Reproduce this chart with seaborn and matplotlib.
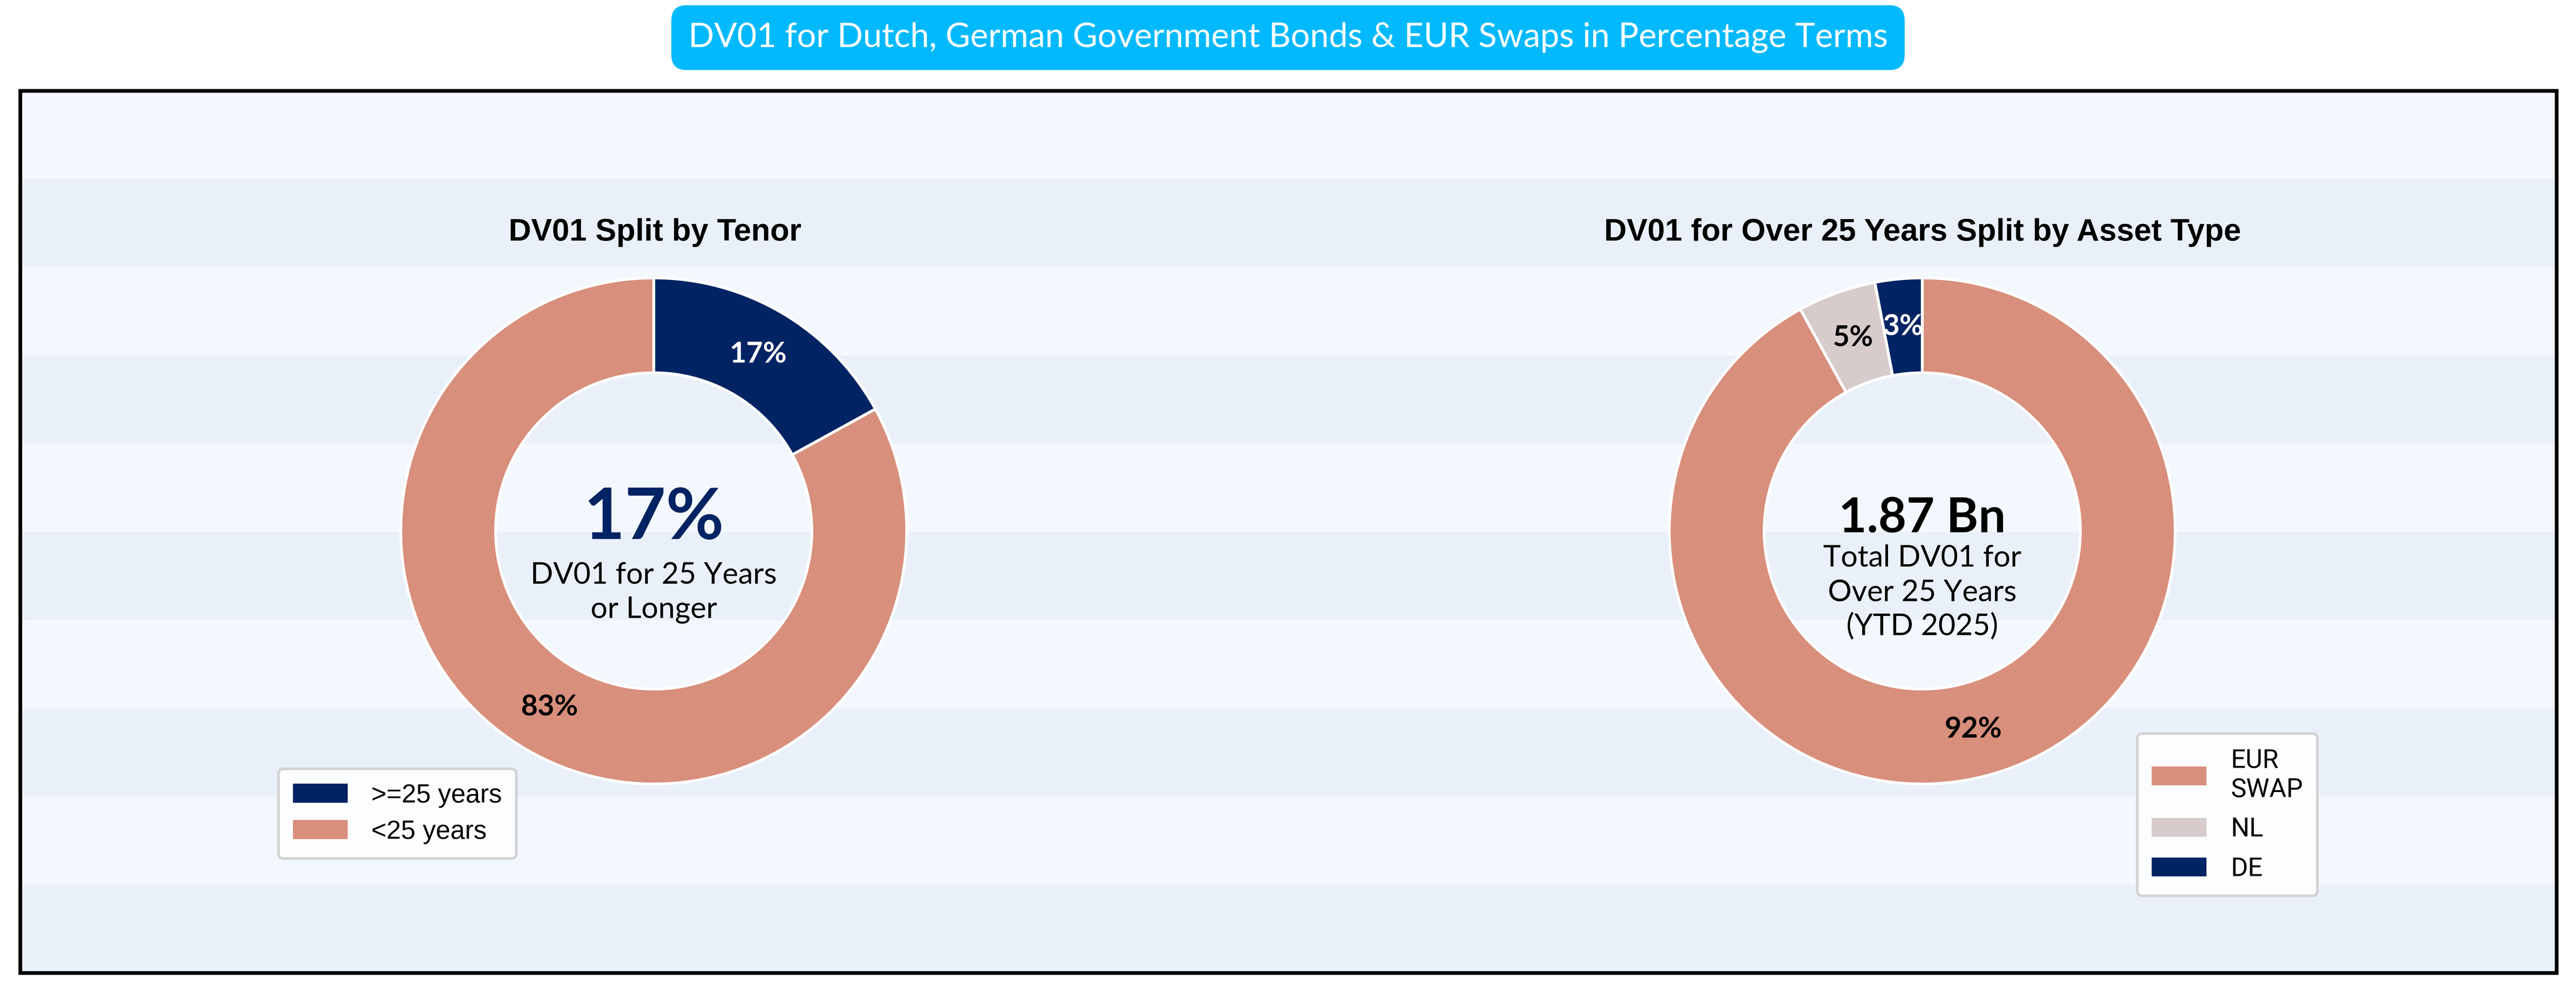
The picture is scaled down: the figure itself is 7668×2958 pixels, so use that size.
import matplotlib
matplotlib.use("Agg")
import matplotlib.pyplot as plt
import seaborn as sns
from matplotlib.patches import Patch

# data
tenor_labels = [">=25 years", "<25 years"]
tenor_share = [17, 83]
asset_labels = ["EUR\nSWAP", "NL", "DE"]
asset_share = [92, 5, 3]
total_dv01_bn = 1.87

NAVY = "#002463"
SALMON = "#D88F7C"
ROSE = "#D8CBCB"
tenor_colors = sns.color_palette([NAVY, SALMON])
asset_colors = sns.color_palette([SALMON, ROSE, NAVY])

sns.set_theme(style="white")
plt.rcParams["font.family"] = ["Lato", "DejaVu Sans"]
plt.rcParams["text.color"] = "black"

W, H, DPI = 7668, 2958, 200
fig = plt.figure(figsize=(W / DPI, H / DPI), dpi=DPI)
fig.patch.set_facecolor("white")


def fx(px):
    return px / W


def fy(px):
    return 1 - px / H


# banded background inside a black frame
bg = fig.add_axes([fx(60), fy(2895), fx(7610) - fx(60), fy(270) - fy(2895)])
for i in range(10):
    bg.axhspan(9 - i, 10 - i, color="#F3F8FE" if i % 2 == 0 else "#E9F0FA", lw=0)
bg.set_xlim(0, 1)
bg.set_ylim(0, 10)
bg.set_xticks([])
bg.set_yticks([])
for s in bg.spines.values():
    s.set_linewidth(4)
    s.set_color("black")

R = 753  # outer radius in pixels
CY = 1580


def donut_ax(cx):
    side = 2.5 * R
    ax = fig.add_axes([fx(cx - side / 2), fy(CY + side / 2), side / W, side / H])
    ax.patch.set_alpha(0)
    return ax


def draw_donut(ax, values, colors, label_colors):
    wedges, _, autotexts = ax.pie(
        values, colors=colors, startangle=90, counterclock=False, radius=1,
        pctdistance=0.81, autopct=lambda p: f"{p:.0f}%",
        wedgeprops=dict(width=0.375, edgecolor="white", linewidth=3),
        textprops=dict(fontsize=31, fontweight="bold"))
    for t, c in zip(autotexts, label_colors):
        t.set_color(c)
    ax.set_xlim(-1.25, 1.25)
    ax.set_ylim(-1.25, 1.25)
    ax.set_aspect("equal")
    ax.axis("off")
    return wedges


def y_of(px):
    return (CY - px) / R


# left donut: split by tenor
ax1 = donut_ax(1946)
draw_donut(ax1, tenor_share, tenor_colors, ["white", "black"])
ax1.text(0, y_of(1604), f"{tenor_share[0]}%", ha="center", va="baseline",
         fontsize=76, fontweight="bold", color=NAVY)
ax1.text(0, y_of(1738), "DV01 for 25 Years", ha="center", va="baseline", fontsize=32)
ax1.text(0, y_of(1839), "or Longer", ha="center", va="baseline", fontsize=32)

# right donut: over 25 years split by asset type
ax2 = donut_ax(5722)
draw_donut(ax2, asset_share, asset_colors, ["black", "black", "white"])
ax2.text(0, y_of(1584), f"{total_dv01_bn:.2f} Bn", ha="center", va="baseline",
         fontsize=52, fontweight="bold", color="black")
for txt, ypx in [("Total DV01 for", 1686), ("Over 25 Years", 1789), ("(YTD 2025)", 1890)]:
    ax2.text(0, y_of(ypx), txt, ha="center", va="baseline", fontsize=32)

# titles
title_font = dict(family="Liberation Sans", size=33.5, weight="bold")
fig.text(fx(1950), fy(716), "DV01 Split by Tenor", ha="center", va="baseline",
         fontdict=title_font)
fig.text(fx(5723), fy(716), "DV01 for Over 25 Years Split by Asset Type", ha="center",
         va="baseline", fontdict=title_font)
fig.text(0.5, fy(112), "DV01 for Dutch, German Government Bonds & EUR Swaps in Percentage Terms",
         ha="center", va="center", fontsize=36.3, color="white",
         bbox=dict(boxstyle="round,pad=0.5,rounding_size=0.45", fc="#02B9FD", ec="none"))


def style_legend(leg):
    fr = leg.get_frame()
    fr.set_edgecolor("#D3D3D3")
    fr.set_linewidth(2.9)
    fr.set_facecolor("#FCFDFE")
    fr.set_alpha(1)


leg1 = fig.legend([Patch(facecolor=c, edgecolor="none") for c in tenor_colors], tenor_labels,
                  loc="upper left", bbox_to_anchor=(fx(829), fy(2288)), borderaxespad=0,
                  frameon=True, fancybox=True, prop=dict(family="Liberation Sans", size=28),
                  handlelength=2.1, handleheight=0.74, handletextpad=0.9,
                  borderpad=0.55, labelspacing=0.45)
style_legend(leg1)

leg2 = fig.legend([Patch(facecolor=c, edgecolor="none") for c in asset_colors], asset_labels,
                  loc="upper left", bbox_to_anchor=(fx(6362), fy(2183)), borderaxespad=0,
                  frameon=True, fancybox=True, prop=dict(family="Roboto", size=28),
                  handlelength=2.1, handleheight=0.74, handletextpad=0.93,
                  borderpad=0.55, labelspacing=0.55)
style_legend(leg2)

fig.savefig("out.png", dpi=DPI)
